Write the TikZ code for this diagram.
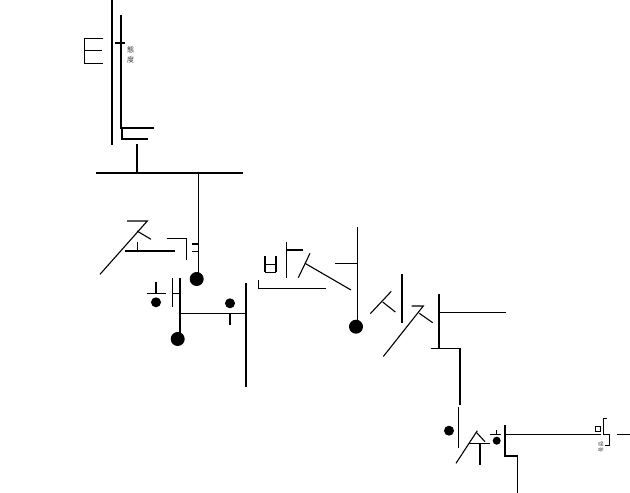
\documentclass[tikz,border=0pt]{standalone}
\usepackage{fontspec}
\newfontfamily\cjk{Noto Sans CJK KR}
\begin{document}
\begin{tikzpicture}[x=1pt,y=-1pt,
  thick line/.style={line width=1.8pt},
  mid line/.style={line width=1.5pt},
  thin line/.style={line width=1.1pt},
  hair line/.style={line width=0.8pt},
  bigdot/.style={fill=black},
  tinytext/.style={inner sep=0pt, font=\cjk\fontsize{7}{7}\selectfont, text=black!80}]
\useasboundingbox (0,0) rectangle (630,493);
% ---- top: 태 / 도 ----
\draw[thick line] (112,0) -- (112,145);
\draw[thick line] (121,15) -- (121,128) -- (154,128);
\draw[thick line] (122,128) -- (122,139) -- (148,139);
\draw[thick line] (115,43) -- (125,43);
\draw[hair line] (103.3,38.3) -- (84,38.3) -- (84,63.3) -- (103.3,63.3);
\draw[hair line] (84,50.7) -- (101.7,50.7);
\node[tinytext] (tai) at (130.5,50) {態};
\node[tinytext] (du) at (130.5,60) {度};
\draw[thick line] (136.7,144) -- (136.7,173.3);
\draw[thick line] (96,173.3) -- (242.7,173.3);
\draw[thick line] (198.5,173.3) -- (198.5,276);
\fill[bigdot] (196.7,279) circle (7);
% ---- 조 ㄱ ----
\draw[thin line] (127,221) -- (147.3,221) -- (100,274.3);
\draw[thin line] (137,231) -- (151,239.3);
\draw[thin line] (137.7,241.7) -- (137.7,251);
\draw[thin line] (125,251) -- (175,251);
\draw[thin line] (166.7,238.3) -- (186.7,238.3) -- (186.7,260);
\draw[thin line] (191.7,244) -- (198.5,244);
\draw[thin line] (191.7,251.7) -- (198.5,251.7);
% ---- 해 ----
\draw[thin line] (156,281.7) -- (156,293.3);
\draw[thin line] (146.7,293.3) -- (166,293.3);
\fill[bigdot] (156,302.3) circle (5);
\draw[thin line] (172.3,278.3) -- (172.3,306.7);
\draw[thin line] (172.3,293.3) -- (180,293.3);
\draw[mid line] (180,278.3) -- (180,333);
\fill[bigdot] (177.7,339) circle (7);
\draw[thin line] (180,313.3) -- (246,313.3);
\fill[bigdot] (230,303.3) circle (5);
\draw[thin line] (230,313.3) -- (230,325);
\draw[mid line] (246,283) -- (246,387);
% ---- 반 서 ----
\draw[thin line] (265,255.7) -- (265,272.3);
\draw[thin line] (276,255.7) -- (276,272.3);
\draw[thin line] (265,264.3) -- (276,264.3);
\draw[thin line] (265,272.3) -- (276,272.3);
\draw[thin line] (286.7,241.7) -- (286.7,277.7);
\draw[thin line] (286.7,250) -- (303.3,250);
\draw[thin line] (258.3,280) -- (258.3,288.3) -- (326,288.3);
\draw[thin line] (298.3,277.7) -- (310,253.3);
\draw[thin line] (305,263.3) -- (351,290);
\draw[thin line] (335,263.3) -- (357.7,263.3);
\draw[mid line] (357.7,227) -- (357.7,321);
\fill[bigdot] (356,326.7) circle (7);
% ---- 시 작 ----
\draw[thin line] (370.3,313.7) -- (391.3,291.3);
\draw[thin line] (382.7,302) -- (395.3,312);
\draw[mid line] (402,274.3) -- (402,323.3);
\draw[thin line] (411.7,306) -- (423.3,306) -- (383.3,356.5);
\draw[thin line] (419.3,313.3) -- (432.7,322.7);
\draw[mid line] (439,293.5) -- (439,348.3);
\draw[thin line] (439,312.3) -- (506,312.3);
\draw[mid line] (430.7,348.3) -- (460,348.3) -- (460,405);
\draw[mid line] (458.3,406.7) -- (458.3,448.3);
\fill[bigdot] (449,430.7) circle (5);
% ---- 수 ----
\draw[thin line] (456,463.3) -- (477.3,430.7);
\draw[thin line] (476.7,432.7) -- (485,441.7);
\draw[thin line] (469.3,443.3) -- (490,443.3);
\draw[thin line] (480,443.3) -- (480,465);
\draw[thin line] (496.7,430) -- (496.7,434.3);
\draw[thin line] (490,434.3) -- (500.7,434.3);
\fill[bigdot] (496.7,440.7) circle (4);
\draw[mid line] (505,425) -- (505,456) -- (517.3,456) -- (517.3,493);
\draw[thin line] (505,434.3) -- (600.5,434.3);
% ---- right end ----
\draw[hair line] (595.7,426) rectangle (600.3,431);
\draw[hair line] (607,418) -- (603.7,418) -- (603.7,434.3) -- (609,434.3) -- (609,445.3) -- (604.7,445.3);
\draw[thin line] (617,434.3) -- (630,434.3);
\node[tinytext, font=\cjk\fontsize{5.5}{5.5}\selectfont, rotate=-90] (haeng) at (601,447) {행동};
\end{tikzpicture}
\end{document}
